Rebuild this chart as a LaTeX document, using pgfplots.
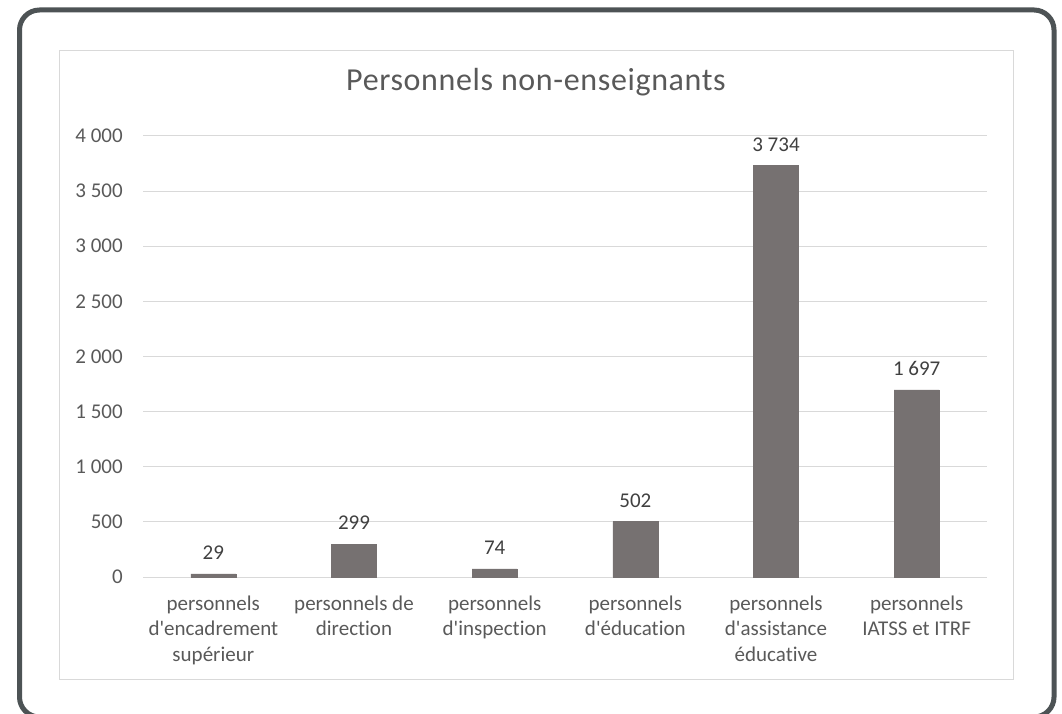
\documentclass[border=0pt]{standalone}
\usepackage{pgfplots}
\pgfplotsset{compat=1.18}
\usepackage{fontspec}
\newfontfamily\cf{Carlito}[Ligatures=CommonOff]
\newfontfamily\cft{Carlito}[LetterSpace=2,Ligatures=CommonOff]
\definecolor{barc}{HTML}{767171}
\definecolor{gridc}{HTML}{D9D9D9}
\definecolor{tickc}{HTML}{595959}
\definecolor{labc}{HTML}{404040}
\definecolor{framec}{HTML}{4D5355}
\begin{document}
\cf
\begin{tikzpicture}
\useasboundingbox (0,0) rectangle (796.5pt,534.75pt);
\draw[line width=3.75pt, draw=framec, rounded corners=15pt] (14.625pt,-3pt) rectangle (790.5pt,527.25pt);
\draw[line width=0.75pt, draw=gridc] (44.25pt,25.5pt) rectangle (759.75pt,496.5pt);
\node[anchor=base, text=tickc, inner sep=0pt, font=\cft\fontsize{24pt}{28pt}\selectfont] at (402pt,467pt) {Personnels non-enseignants};
\begin{axis}[
  at={(107.25pt,102pt)}, anchor=south west,
  scale only axis, width=633pt, height=330.75pt,
  xmin=-0.5, xmax=5.5, ymin=0, ymax=4000,
  ybar, bar width=33.75pt,
  clip=false,
  axis x line*=bottom, axis y line*=left,
  x axis line style={draw=gridc, line width=0.75pt, -},
  y axis line style={draw=none},
  major tick length=0pt,
  ytick={0,500,1000,1500,2000,2500,3000,3500,4000},
  yticklabels={0,500,1 000,1 500,2 000,2 500,3 000,3 500,4 000},
  xtick={0,1,2,3,4,5},
  xticklabels={{personnels\\d'encadrement\\supérieur},{personnels de\\direction},{personnels\\d'inspection},{personnels\\d'éducation},{personnels\\d'assistance\\éducative},{personnels\\IATSS et ITRF}},
  ymajorgrids, grid style={draw=gridc, line width=0.75pt},
  yticklabel style={anchor=east, inner sep=0pt, xshift=-15pt, text=tickc, font=\cf\fontsize{15.75pt}{19pt}\selectfont},
  xticklabel style={anchor=north, inner sep=0pt, yshift=-14pt, align=center, text=tickc, font=\cf\fontsize{15.75pt}{19pt}\selectfont},
  nodes near coords,
  point meta=explicit symbolic,
  nodes near coords style={anchor=center, inner sep=0pt, yshift=15.75pt, text=labc, font=\cf\fontsize{15.75pt}{19pt}\selectfont},
]
\addplot[fill=barc, draw=barc] coordinates {(0,29) [29] (1,299) [299] (2,74) [74] (3,502) [502] (4,3734) [3 734] (5,1697) [1 697]};
\end{axis}
\end{tikzpicture}
\end{document}
